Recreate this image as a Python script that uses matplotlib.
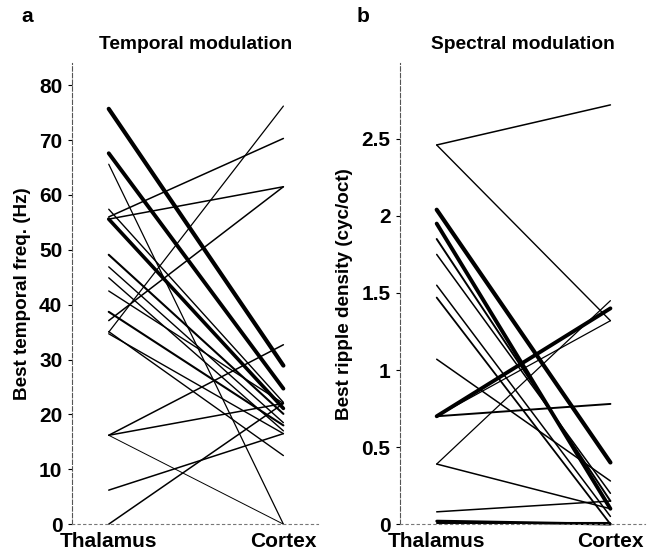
import matplotlib
matplotlib.use("Agg")
import matplotlib.pyplot as plt

plt.rcParams['font.family'] = ['Liberation Sans', 'DejaVu Sans']

areas = ["Thalamus", "Cortex"]

# temporal modulation: best frequency (Hz) in thalamus and cortex, plus line weight
temp_thal = [75.7, 67.6, 65.6, 57.4, 55.6, 56.0, 55.6, 49.1, 46.9, 44.9, 42.5,
             38.7, 37.1, 35.0, 35.1, 34.7, 16.2, 16.2, 16.2, 6.2, 0.0]
temp_ctx = [28.9, 24.7, 0.0, 22.2, 21.1, 70.3, 61.5, 20.1, 18.5, 17.0, 22.0,
            18.0, 61.5, 76.2, 12.5, 16.5, 32.7, 22.0, 0.0, 16.5, 22.0]
temp_lw = [3.0, 2.8, 0.9, 1.0, 2.6, 1.1, 1.1, 1.5, 1.0, 1.0, 1.0,
           1.5, 1.1, 0.9, 1.0, 1.0, 1.1, 1.1, 0.7, 1.1, 1.1]

# spectral modulation: best ripple density (cyc/oct)
spec_thal = [2.46, 2.46, 2.04, 1.95, 1.85, 1.75, 1.55, 1.47, 1.07,
             0.70, 0.70, 0.70, 0.39, 0.39, 0.08, 0.02, 0.01]
spec_ctx = [2.72, 1.32, 0.40, 0.10, 0.15, 0.20, 0.05, 0.00, 0.28,
            1.40, 0.78, 1.32, 1.45, 0.10, 0.15, 0.00, 0.01]
spec_lw = [1.1, 1.0, 3.0, 2.8, 1.4, 1.1, 1.1, 1.3, 1.1,
           2.8, 1.4, 0.9, 0.9, 1.1, 1.1, 2.0, 1.5]

temp_ticks = [0, 10, 20, 30, 40, 50, 60, 70, 80]
spec_ticks = [0, 0.5, 1, 1.5, 2, 2.5]
spec_ticklabels = ["0", "0.5", "1", "1.5", "2", "2.5"]


def draw_panel(ax, thal, ctx, lws, ylim, yticks, yticklabels, ylabel, title):
    for t, c, w in zip(thal, ctx, lws):
        ax.plot([1, 2], [t, c], color='black', lw=w, solid_capstyle='round',
                clip_on=False)
    ax.set_xlim(0.79, 2.2)
    ax.set_ylim(*ylim)
    ax.set_xticks([1, 2])
    ax.set_xticklabels(areas, fontsize=15, fontweight='bold')
    ax.set_yticks(yticks)
    ax.set_yticklabels(yticklabels, fontsize=15, fontweight='bold')
    ax.tick_params(axis='x', length=0, pad=6)
    ax.tick_params(axis='y', length=3, width=0.8, direction='out', pad=4)
    ax.set_ylabel(ylabel, fontsize=13.6, fontweight='bold', labelpad=6)
    ax.set_title(title, fontsize=13.8, fontweight='bold', pad=10)
    for side in ['top', 'right']:
        ax.spines[side].set_visible(False)
    ax.spines['left'].set_linestyle((0, (4, 2)))
    ax.spines['left'].set_color('#555555')
    ax.spines['left'].set_linewidth(0.8)
    ax.spines['bottom'].set_linestyle((0, (2, 3)))
    ax.spines['bottom'].set_color('#777777')
    ax.spines['bottom'].set_linewidth(0.8)


fig = plt.figure(figsize=(6.55, 5.6), dpi=100)
ax1 = fig.add_axes([0.110, 0.064, 0.376, 0.823])
ax2 = fig.add_axes([0.611, 0.064, 0.374, 0.823])

draw_panel(ax1, temp_thal, temp_ctx, temp_lw, (0, 84), temp_ticks,
           [str(v) for v in temp_ticks], "Best temporal freq. (Hz)",
           "Temporal modulation")
draw_panel(ax2, spec_thal, spec_ctx, spec_lw, (0, 2.99), spec_ticks,
           spec_ticklabels, "Best ripple density (cyc/oct)",
           "Spectral modulation")

fig.text(0.033, 0.97, "a", fontsize=15, fontweight='bold', va='center')
fig.text(0.545, 0.97, "b", fontsize=15, fontweight='bold', va='center')

fig.savefig("out.png", dpi=100)
